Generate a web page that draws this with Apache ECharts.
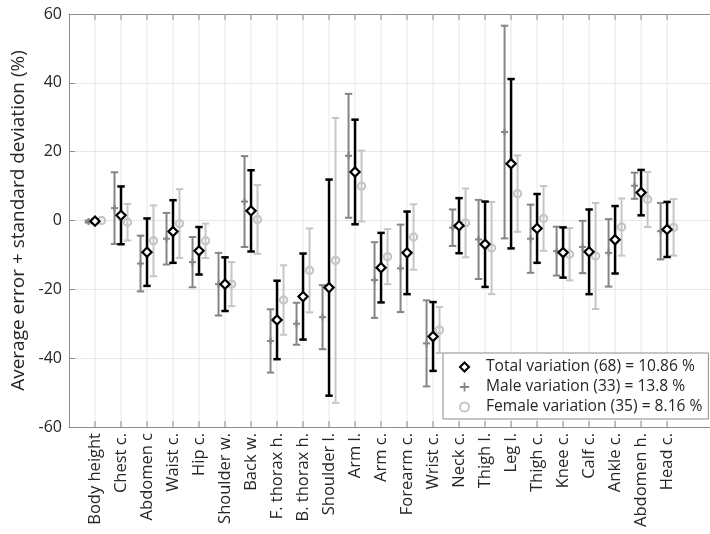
<!DOCTYPE html>
<html>
<head>
<meta charset="utf-8">
<script src="https://cdn.jsdelivr.net/npm/echarts@6/dist/echarts.min.js"></script>
<style>html,body{margin:0;padding:0;background:#fff}#c{width:710px;height:534px}</style>
</head>
<body>
<div id="c"></div>
<script>
const categories = ['Body height','Chest c.','Abdomen c','Waist c.','Hip c.','Shoulder w.','Back w.','F. thorax h.','B. thorax h.','Shoulder l.','Arm l.','Arm c.','Forearm c.','Wrist c.','Neck c.','Thigh l.','Leg l.','Thigh c.','Knee c.','Calf c.','Ankle c.','Abdomen h.','Head c.'];
const totalMean = [-0.2, 1.5, -9.2, -3.2, -8.8, -18.5, 2.8, -28.9, -22.1, -19.5, 14.1, -13.7, -9.4, -33.7, -1.5, -6.9, 16.5, -2.3, -9.3, -9.1, -5.6, 8.1, -2.6];
const totalSd   = [0.5, 8.4, 9.8, 9.1, 6.9, 7.8, 11.8, 11.4, 12.5, 31.4, 15.2, 10.1, 12.0, 10.0, 8.0, 12.4, 24.6, 10.0, 7.3, 12.3, 9.8, 6.6, 8.0];
const maleMean  = [-0.3, 3.6, -12.5, -5.3, -12.1, -18.5, 5.5, -35.0, -30.0, -28.1, 18.8, -17.3, -13.9, -35.7, -2.1, -5.5, 25.7, -5.3, -8.9, -7.7, -9.4, 10.1, -3.1];
const maleSd    = [0.3, 10.4, 8.1, 7.5, 7.3, 9.1, 13.2, 9.2, 6.1, 9.3, 18.0, 11.0, 12.7, 12.5, 5.3, 11.5, 30.9, 9.9, 7.1, 7.6, 9.8, 3.8, 8.2];
const femaleMean= [0.0, -0.5, -5.9, -0.9, -5.9, -18.5, 0.3, -23.1, -14.5, -11.6, 10.0, -10.5, -4.8, -31.8, -0.7, -8.0, 7.8, 0.6, -9.8, -10.3, -1.9, 6.1, -2.0];
const femaleSd  = [0.0, 5.3, 10.3, 10.0, 5.0, 6.4, 10.0, 10.1, 12.2, 41.4, 10.3, 8.0, 9.5, 6.7, 10.0, 13.4, 11.1, 9.4, 7.6, 15.4, 8.3, 8.0, 8.2];
const seriesNames = ['Total variation (68) = 10.86 %', 'Male variation (33) = 13.8 %', 'Female variation (35) = 8.16 %'];
const yTicks = [-60, -40, -20, 0, 20, 40, 60];

const TXT = '#262626', AX = '#8c8c8c', GRID = '#e6e6e6';
const C_TOTAL = '#000000', C_MALE = '#858585', C_FEMALE = '#c6c6c6';

function errSeries(name, means, sds, offset, color, lw, marker) {
  return {
    name, type: 'custom', z: marker === 'diamond' ? 5 : 4,
    itemStyle: {color},
    data: means.map((m, i) => [i + 1 + offset, m, sds[i]]),
    encode: {x: 0, y: 1},
    renderItem(params, api) {
      const x = api.value(0), m = api.value(1), s = api.value(2);
      const t = api.coord([x, m + s]), b = api.coord([x, m - s]), c = api.coord([x, m]);
      const hw = 3.7;
      const ls = {stroke: color, lineWidth: lw, fill: null};
      const ch = [];
      if (s > 0.05) {
        ch.push({type: 'line', shape: {x1: t[0], y1: t[1], x2: b[0], y2: b[1]}, style: ls});
        ch.push({type: 'line', shape: {x1: t[0] - hw, y1: t[1], x2: t[0] + hw, y2: t[1]}, style: ls});
        ch.push({type: 'line', shape: {x1: b[0] - hw, y1: b[1], x2: b[0] + hw, y2: b[1]}, style: ls});
      }
      if (marker === 'diamond') {
        const r = 4.6;
        ch.push({type: 'polygon', shape: {points: [[c[0], c[1] - r], [c[0] + r, c[1]], [c[0], c[1] + r], [c[0] - r, c[1]]]},
          style: {fill: '#fff', stroke: color, lineWidth: 2.2}});
      } else if (marker === 'plus') {
        const r = 3.5;
        ch.push({type: 'line', shape: {x1: c[0] - r, y1: c[1], x2: c[0] + r, y2: c[1]}, style: {stroke: color, lineWidth: 2}});
        ch.push({type: 'line', shape: {x1: c[0], y1: c[1] - r, x2: c[0], y2: c[1] + r}, style: {stroke: color, lineWidth: 2}});
      } else {
        ch.push({type: 'circle', shape: {cx: c[0], cy: c[1], r: 3.6}, style: {fill: null, stroke: color, lineWidth: 2.2}});
      }
      return {type: 'group', children: ch};
    }
  };
}

const gridSeries = {
  name: 'grid', type: 'custom', silent: true, z: 1,
  data: categories.map((c, i) => [i + 1]),
  encode: {x: 0},
  renderItem(params, api) {
    const x = api.value(0);
    const t = api.coord([x, 60]), b = api.coord([x, -60]);
    return {type: 'group', children: [
      {type: 'line', shape: {x1: t[0], y1: t[1], x2: b[0], y2: b[1]}, style: {stroke: GRID, lineWidth: 1}},
      {type: 'line', shape: {x1: t[0], y1: t[1], x2: t[0], y2: t[1] + 6}, style: {stroke: AX, lineWidth: 1}},
      {type: 'line', shape: {x1: b[0], y1: b[1], x2: b[0], y2: b[1] - 6}, style: {stroke: AX, lineWidth: 1}}
    ]};
  }
};

const chart = echarts.init(document.getElementById('c'), null, {renderer: 'canvas'});
chart.setOption({
  animation: false,
  backgroundColor: '#fff',
  textStyle: {fontFamily: 'Open Sans'},
  grid: {left: 69, top: 14, right: 0, bottom: 107, show: false, containLabel: false, outerBoundsMode: 'none'},
  xAxis: [{
    type: 'value', min: 0, max: 24.65,
    axisLine: {show: true, onZero: false, lineStyle: {color: AX, width: 1}},
    axisTick: {show: false}, splitLine: {show: false},
    axisLabel: {show: false}
  }, {
    type: 'value', min: 0, max: 24.65, position: 'top',
    axisLine: {show: true, onZero: false, lineStyle: {color: AX, width: 1}},
    axisTick: {show: false}, splitLine: {show: false}, axisLabel: {show: false}
  }, {
    type: 'value', min: 0, max: 24.65, position: 'bottom', interval: 1,
    axisLine: {show: false}, axisTick: {show: false}, splitLine: {show: false},
    axisLabel: {rotate: 90, margin: 6, fontSize: 16.5, color: TXT, fontFamily: 'Open Sans',
      showMinLabel: false, showMaxLabel: false,
      formatter: v => categories[v - 1] || ''}
  }],
  yAxis: {
    type: 'value', min: yTicks[0], max: yTicks[yTicks.length - 1], interval: 20,
    axisLine: {show: true, lineStyle: {color: AX, width: 1}},
    axisTick: {show: true, inside: true, length: 6, lineStyle: {color: AX}},
    splitLine: {show: true, lineStyle: {color: GRID, width: 1}},
    axisLabel: {fontSize: 16, margin: 7, color: TXT, fontFamily: 'Open Sans'},
    name: 'Average error + standard deviation (%)', nameLocation: 'middle', nameGap: 22,
    nameTextStyle: {fontSize: 19, color: TXT, fontFamily: 'Open Sans'}
  },
  legend: {
    orient: 'vertical', left: 443, top: 353,
    backgroundColor: '#fff', borderColor: '#8c8c8c', borderWidth: 1,
    padding: [5, 6, 3, 16], itemWidth: 9, itemHeight: 9, itemGap: 2,
    textStyle: {fontSize: 15.6, color: TXT, fontFamily: 'Open Sans', lineHeight: 18, padding: [0, 0, 0, 12]},
    data: [
      {name: seriesNames[0], icon: 'diamond', itemStyle: {color: '#fff', borderColor: C_TOTAL, borderWidth: 2}},
      {name: seriesNames[1], icon: 'path://M4,0h2v4h4v2h-4v4h-2v-4h-4v-2h4z', itemStyle: {color: C_MALE, borderWidth: 0}},
      {name: seriesNames[2], icon: 'circle', itemStyle: {color: 'transparent', borderColor: C_FEMALE, borderWidth: 2}}
    ],
    selectedMode: false
  },
  series: [
    gridSeries,
    errSeries(seriesNames[1], maleMean, maleSd, -0.25, C_MALE, 2, 'plus'),
    errSeries(seriesNames[2], femaleMean, femaleSd, 0.25, C_FEMALE, 2, 'circle'),
    errSeries(seriesNames[0], totalMean, totalSd, 0, C_TOTAL, 2.5, 'diamond')
  ]
});
</script>
</body>
</html>
